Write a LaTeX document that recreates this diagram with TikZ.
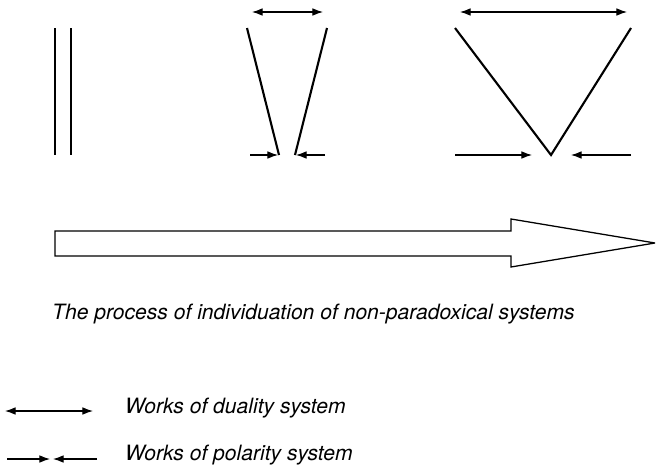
\documentclass[tikz,border=0pt]{standalone}
\usepackage{fontspec}
\setmainfont{TeX Gyre Heros}
\usetikzlibrary{arrows.meta, calc}
\tikzset{
  duality/.style={{Latex[length=9pt, width=6.5pt]}-{Latex[length=9pt, width=6.5pt]}, line width=0.9pt},
  polarity/.style={-{Latex[length=9pt, width=6.5pt]}, line width=0.9pt},
  branch/.style={line width=1.8pt},
  label/.style={font=\fontsize{18}{20}\selectfont\itshape, anchor=base west, inner sep=0pt},
}

\begin{document}
\begin{tikzpicture}[x=0.03cm, y=-0.03cm]
\useasboundingbox (0,0) rectangle (657,471);
% first stage: two parallel lines
\draw[line width=0.9pt] (55,28) -- (55,155);
\draw[line width=0.9pt] (71,28) -- (71,155);
% second stage: narrow opening
\coordinate (nL) at (247,28);
\coordinate (nR) at (327,28);
\coordinate (nl) at (279,155);
\coordinate (nr) at (295,155);
\draw[branch] (nL) -- (nl);
\draw[branch] (nR) -- (nr);
\coordinate (nd1) at (252,12);
\coordinate (nd2) at (323,12);
\draw[duality] (nd1) -- (nd2);
\coordinate (np1) at (250,155);
\coordinate (np2) at (325,155);
\draw[polarity] (np1) -- ($(nl)+(-1,0)$);
\draw[polarity] (np2) -- ($(nr)+(1,0)$);
% third stage: wide V
\coordinate (wL) at (455,28);
\coordinate (wR) at (631,28);
\coordinate (wV) at (551,155);
\draw[branch, line join=miter] (wL) -- (wV) -- (wR);
\coordinate (wd1) at (460,12);
\coordinate (wd2) at (627,12);
\draw[duality] (wd1) -- (wd2);
\coordinate (wp1) at (455,155);
\coordinate (wp2) at (631,155);
\coordinate (wq1) at (532,155);
\coordinate (wq2) at (571,155);
\draw[polarity] (wp1) -- (wq1);
\draw[polarity] (wp2) -- (wq2);
% process arrow
\draw[line width=1.1pt, line join=miter, miter limit=2]
  (55,231) -- (511,231) -- (511,219) -- (655,243) -- (511,267) -- (511,256) -- (55,256) -- cycle;
\node[label] (cap) at (52,319) {The process of individuation of non-paradoxical systems};
% legend
\coordinate (ld1) at (5,411);
\coordinate (ld2) at (93,411);
\draw[duality] (ld1) -- (ld2);
\node[label] (ldt) at (125,413) {Works of duality system};
\coordinate (lp1) at (7,459);
\coordinate (lp2) at (50,459);
\coordinate (lp3) at (97,459);
\coordinate (lp4) at (53,459);
\draw[polarity] (lp1) -- (lp2);
\draw[polarity] (lp3) -- (lp4);
\node[label] (lpt) at (125,460) {Works of polarity system};
\end{tikzpicture}
\end{document}
